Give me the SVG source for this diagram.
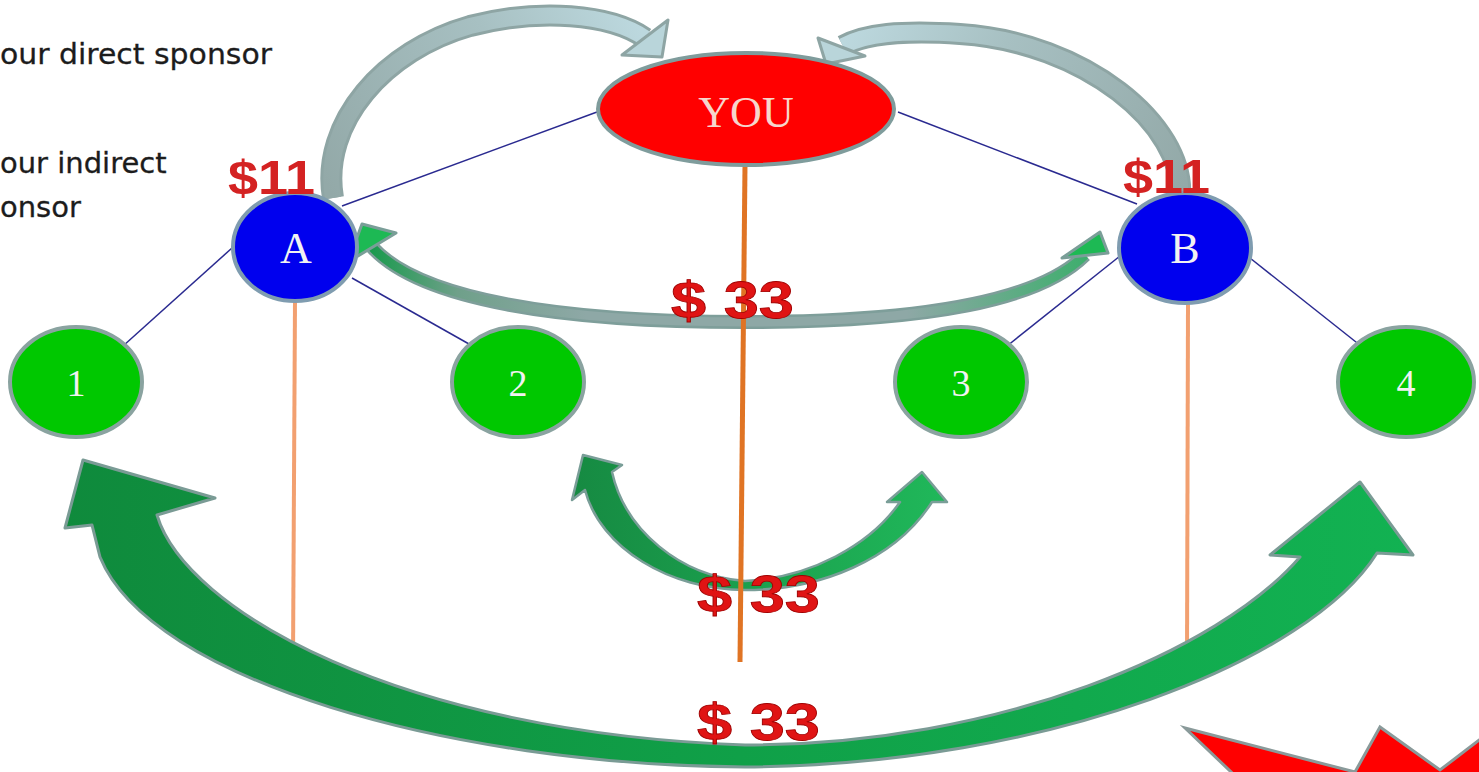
<svg xmlns="http://www.w3.org/2000/svg" width="1479" height="772" viewBox="0 0 1479 772">
<style>
.side{font-family:"DejaVu Sans",sans-serif;font-size:29px;fill:#1c1c1c;stroke:#1c1c1c;stroke-width:0.3}
.money{font-family:"Liberation Sans",Arial,sans-serif;font-weight:bold;fill:#e01414;stroke:#a00000;stroke-width:0.8}
.m11{font-family:"Liberation Sans",Arial,sans-serif;font-weight:bold;font-size:48px;fill:#d42222}
.lbl{font-family:"Liberation Serif","Times New Roman",serif;text-anchor:middle;fill:#f2f2f2}
.green{fill:#00c800;stroke:#8aa3a0;stroke-width:4}
.blue{fill:#0000ee;stroke:#7f9cb0;stroke-width:4}
.link{stroke:#2a2a90;stroke-width:1.5;fill:none}
.grayout{fill:none;stroke:#8ea5a4;stroke-width:22}
.headg{fill:#b9d5da;stroke:#8ea5a4;stroke-width:3;stroke-linejoin:round}
.headgr{fill:#1db954;stroke:#7a9e98;stroke-width:3;stroke-linejoin:round}
</style>
<defs>
<linearGradient id="gL" gradientUnits="userSpaceOnUse" x1="333" y1="198" x2="645" y2="38">
<stop offset="0" stop-color="#93a9a8"/><stop offset="0.6" stop-color="#a7c0c2"/><stop offset="1" stop-color="#bcd8de"/>
</linearGradient>
<linearGradient id="gR" gradientUnits="userSpaceOnUse" x1="1180" y1="196" x2="843" y2="46">
<stop offset="0" stop-color="#93a9a8"/><stop offset="0.6" stop-color="#a7c0c2"/><stop offset="1" stop-color="#bcd8de"/>
</linearGradient>
<linearGradient id="gMid" gradientUnits="userSpaceOnUse" x1="372" y1="0" x2="1085" y2="0">
<stop offset="0" stop-color="#1a9a4e"/><stop offset="0.12" stop-color="#6fa08a"/><stop offset="0.3" stop-color="#8ea8a6"/><stop offset="0.75" stop-color="#8ea8a6"/><stop offset="1" stop-color="#3fae6e"/>
</linearGradient>
<linearGradient id="gLow" gradientUnits="userSpaceOnUse" x1="572" y1="0" x2="947" y2="0">
<stop offset="0" stop-color="#168a42"/><stop offset="1" stop-color="#20b85a"/>
</linearGradient>
<linearGradient id="gBig" gradientUnits="userSpaceOnUse" x1="65" y1="0" x2="1413" y2="0">
<stop offset="0" stop-color="#0f8a3c"/><stop offset="0.5" stop-color="#10a048"/><stop offset="1" stop-color="#12b252"/>
</linearGradient>
</defs>
<rect width="1479" height="772" fill="#ffffff"/>

<g id="side-text">
<text class="side" x="0" y="64" textLength="272" lengthAdjust="spacingAndGlyphs">our direct sponsor</text>
<text class="side" x="0" y="173">our indirect</text>
<text class="side" x="0" y="217">onsor</text>
</g>

<g id="connectors">
<line class="link" x1="597" y1="112" x2="342" y2="206"/>
<line class="link" x1="898" y1="112" x2="1137" y2="204"/>
<line class="link" x1="232" y1="248" x2="123" y2="346"/>
<line class="link" x1="352" y1="278" x2="469" y2="344"/>
<line class="link" x1="1120" y1="256" x2="1007" y2="346"/>
<line class="link" x1="1250" y1="258" x2="1361" y2="346"/>
<line x1="295" y1="300" x2="293" y2="662" stroke="#f2a070" stroke-width="4"/>
<line x1="1188" y1="303" x2="1187" y2="662" stroke="#f2a070" stroke-width="4"/>
</g>

<g id="arrow-top-left">
<path class="grayout" d="M333 198 C320 122 385 50 470 26 C540 8 610 14 645 38"/>
<path d="M333 198 C320 122 385 50 470 26 C540 8 610 14 645 38" fill="none" stroke="url(#gL)" stroke-width="16"/>
<polygon class="headg" points="668,20 662,57 622,55"/>
</g>
<g id="arrow-top-right">
<path class="grayout" d="M1180 196 C1185 125 1085 42 960 34 C900 30 865 34 843 46"/>
<path d="M1180 196 C1185 125 1085 42 960 34 C900 30 865 34 843 46" fill="none" stroke="url(#gR)" stroke-width="16"/>
<polygon class="headg" points="818,38 826,64 865,56"/>
</g>

<g id="arrow-mid">
<path d="M372 247 C420 300 560 322 745 322 C930 322 1040 300 1085 255" fill="none" stroke="#7e9e9a" stroke-width="14"/>
<path d="M372 247 C420 300 560 322 745 322 C930 322 1040 300 1085 255" fill="none" stroke="url(#gMid)" stroke-width="9"/>
<polygon class="headgr" points="362,224 396,233 348,262"/>
<polygon class="headgr" points="1100,232 1108,253 1062,258"/>
</g>

<g id="arrow-low">
<path d="M583,455 L622,465 L612,472 C625,530 680,576 745,581 C810,578 870,545 900,502 L887,502 L922,472 L947,502 L932,502 C895,560 820,590 745,590 C670,590 600,548 585,490 L572,500 Z" fill="url(#gLow)" stroke="#7a9e98" stroke-width="2.5" stroke-linejoin="round"/>
</g>

<g id="arrow-big">
<path d="M83,460 L215,498 L157,515 C185,610 400,733 745,745 C1000,745 1220,650 1300,557 L1270,555 L1360,482 L1413,555 L1377,553 C1310,660 1050,765 745,767 C450,765 150,680 100,557 L92,525 L65,528 Z" fill="url(#gBig)" stroke="#7a9b95" stroke-width="3" stroke-linejoin="round"/>
</g>

<line id="line-you" x1="745" y1="165" x2="740" y2="662" stroke="#e07424" stroke-width="5"/>

<g id="burst">
<path d="M1185,728 L1355,772 L1380,727 L1440,770 L1495,728 L1495,790 L1250,790 Z" fill="#ff0000" stroke="#8a9a9a" stroke-width="3" stroke-linejoin="miter"/>
</g>

<g id="node-you">
<ellipse cx="746" cy="109" rx="148" ry="56" fill="#ff0000" stroke="#7f9c9c" stroke-width="4"/>
<text class="lbl" x="746" y="127" font-size="44" style="fill:#f6d6cc">YOU</text>
</g>
<g id="node-a">
<ellipse class="blue" cx="295" cy="247" rx="62" ry="54"/>
<text class="lbl" x="296" y="263" font-size="44">A</text>
</g>
<g id="node-b">
<ellipse class="blue" cx="1185" cy="248" rx="66" ry="55"/>
<text class="lbl" x="1185" y="263" font-size="44">B</text>
</g>
<g id="node-1">
<ellipse class="green" cx="76" cy="382" rx="66" ry="55"/>
<text class="lbl" x="76" y="396" font-size="38">1</text>
</g>
<g id="node-2">
<ellipse class="green" cx="518" cy="382" rx="66" ry="55"/>
<text class="lbl" x="518" y="396" font-size="38">2</text>
</g>
<g id="node-3">
<ellipse class="green" cx="961" cy="382" rx="66" ry="55"/>
<text class="lbl" x="961" y="396" font-size="38">3</text>
</g>
<g id="node-4">
<ellipse class="green" cx="1406" cy="382" rx="68" ry="55"/>
<text class="lbl" x="1406" y="396" font-size="38">4</text>
</g>

<g id="labels">
<text class="m11" x="228" y="194" textLength="87" lengthAdjust="spacingAndGlyphs">$11</text>
<text class="m11" x="1123" y="193" textLength="87" lengthAdjust="spacingAndGlyphs">$11</text>
<text class="money" x="671" y="318" font-size="52" textLength="123" lengthAdjust="spacingAndGlyphs">$ 33</text>
<text class="money" x="697" y="612" font-size="52" textLength="123" lengthAdjust="spacingAndGlyphs">$ 33</text>
<text class="money" x="697" y="740" font-size="52" textLength="123" lengthAdjust="spacingAndGlyphs">$ 33</text>
</g>
</svg>
